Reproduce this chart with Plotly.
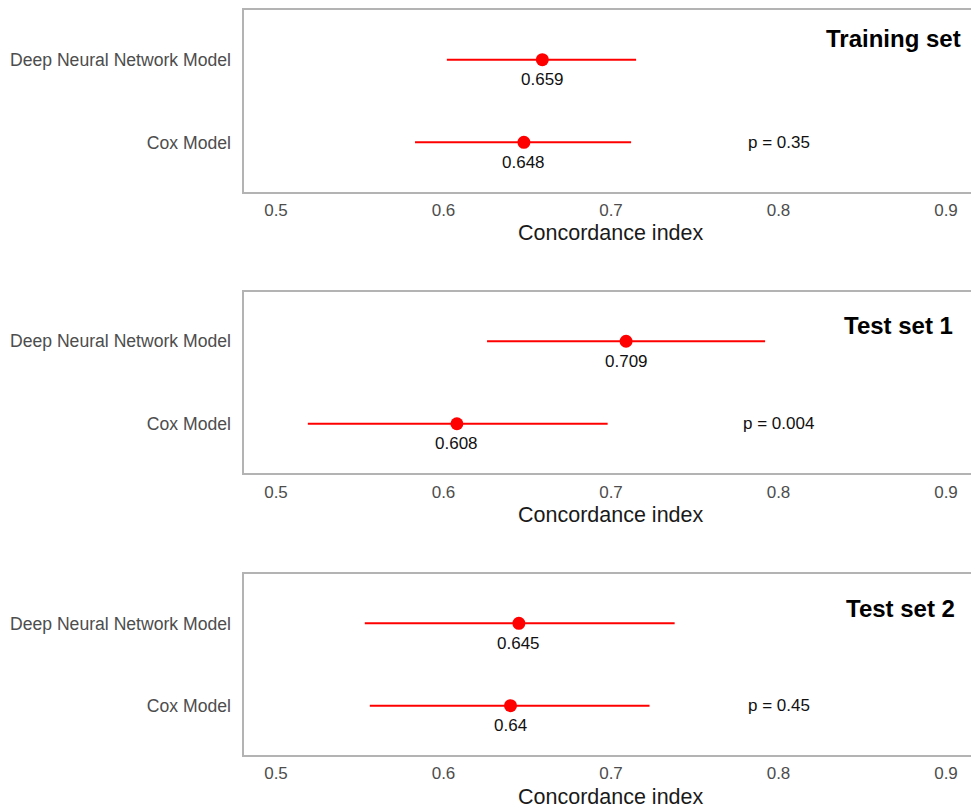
import plotly.graph_objects as go

# ---------------- data ----------------
models = ["Cox Model", "Deep Neural Network Model"]
panels = ["Training set", "Test set 1", "Test set 2"]
cindex_dnn = [0.659, 0.709, 0.645]
lower_dnn = [0.602, 0.626, 0.553]
upper_dnn = [0.715, 0.792, 0.738]
cindex_cox = [0.648, 0.608, 0.640]
lower_cox = [0.583, 0.519, 0.556]
upper_cox = [0.712, 0.698, 0.723]
p_values = ["0.35", "0.004", "0.45"]
x_ticks = [0.5, 0.6, 0.7, 0.8, 0.9]
x_tick_labels = ["0.5", "0.6", "0.7", "0.8", "0.9"]

# ---------------- layout geometry (pixels) ----------------
W, H = 971, 810
panel_px = [(10, 192), (291.7, 473.3), (574, 755)]  # top, bottom
title_px = [(963, 38), (955, 325), (957, 608)]
axis_title_px = [233, 515, 797]
x_left_px = 243.5

def py(v):
    return 1 - v / H

fig = go.Figure()
FONT = "Liberation Sans, Arial, sans-serif"
RED = "#ff0000"
BORDER = "#b3b3b3"

annotations = []
for i in range(3):
    est = [cindex_cox[i], cindex_dnn[i]]
    lo = [lower_cox[i], lower_dnn[i]]
    hi = [upper_cox[i], upper_dnn[i]]
    xa = "x" if i == 0 else f"x{i+1}"
    ya = "y" if i == 0 else f"y{i+1}"
    fig.add_trace(go.Scatter(
        x=est, y=models, xaxis=xa, yaxis=ya,
        mode="markers",
        marker=dict(color=RED, size=13),
        error_x=dict(type="data", symmetric=False,
                     array=[h - e for h, e in zip(hi, est)],
                     arrayminus=[e - l for e, l in zip(est, lo)],
                     color=RED, thickness=2, width=0),
        showlegend=False, cliponaxis=False,
    ))
    # value labels
    for e, m in zip(est, models):
        annotations.append(dict(
            x=e, y=m, xref=xa, yref=ya, text=str(e), showarrow=False,
            font=dict(family=FONT, size=17, color="#111111"),
            xanchor="center", yanchor="middle", yshift=-20))
    # p value
    annotations.append(dict(
        x=0.8, y=models[0], xref=xa, yref=ya,
        text=f"p = {p_values[i]}", showarrow=False,
        font=dict(family=FONT, size=17, color="#111111"),
        xanchor="center", yanchor="middle"))
    # panel title
    tx, ty = title_px[i]
    annotations.append(dict(
        x=tx / W, y=py(ty), xref="paper", yref="paper",
        text=f"<b>{panels[i]}</b>", showarrow=False,
        font=dict(family=FONT, size=24, color="#000000"),
        xanchor="right", yanchor="middle"))
    # axis title
    annotations.append(dict(
        x=610.5 / W, y=py(axis_title_px[i]), xref="paper", yref="paper",
        text="Concordance index", showarrow=False,
        font=dict(family=FONT, size=21.5, color="#1a1a1a"),
        xanchor="center", yanchor="middle"))

    top, bot = panel_px[i]
    xkey = "xaxis" if i == 0 else f"xaxis{i+1}"
    ykey = "yaxis" if i == 0 else f"yaxis{i+1}"
    fig.update_layout(**{
        xkey: dict(
            domain=[x_left_px / W, 1], anchor=ya,
            range=[0.5 - (276 - x_left_px) / 1675, 0.5 + (W - 276) / 1675],
            tickvals=x_ticks, ticktext=x_tick_labels,
            tickfont=dict(family=FONT, size=17, color="#4d4d4d"),
            showgrid=False, zeroline=False,
            showline=True, linecolor=BORDER, linewidth=2, mirror=True,
            ticks="", ticklabelstandoff=2, fixedrange=True,
        ),
        ykey: dict(
            domain=[py(bot), py(top)], anchor=xa,
            type="category", categoryorder="array", categoryarray=models,
            range=[-0.6, 1.6],
            tickfont=dict(family=FONT, size=17.6, color="#4d4d4d"),
            showgrid=False, zeroline=False,
            showline=True, linecolor=BORDER, linewidth=2, mirror=False,
            ticks="", ticklabelstandoff=7, fixedrange=True,
        ),
    })

fig.update_layout(
    width=W, height=H,
    margin=dict(l=0, r=0, t=0, b=0),
    paper_bgcolor="white", plot_bgcolor="white",
    annotations=annotations,
    font=dict(family=FONT),
)

fig.write_html(
    "out.html",
    config={"displayModeBar": False},
    post_script="document.body.style.margin='0px';document.body.style.overflow='hidden';",
)
